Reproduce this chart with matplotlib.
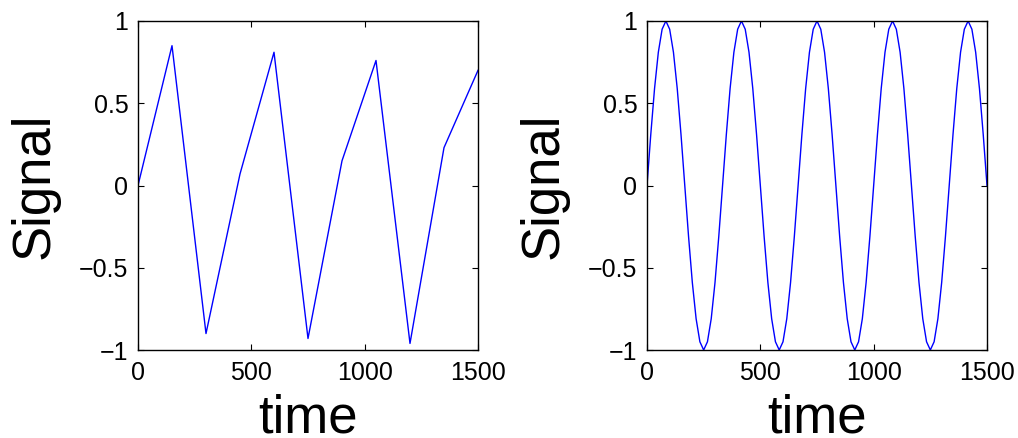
import matplotlib
matplotlib.use("Agg")
import matplotlib.pyplot as plt

# Left panel: coarsely sampled signal
t_left = [0, 150, 300, 450, 600, 750, 900, 1050, 1200, 1350, 1500]
y_left = [0.0, 0.85, -0.90, 0.07, 0.81, -0.93, 0.15, 0.76, -0.96, 0.23, 0.70]

# Right panel: finely sampled signal (step 1500/90)
t_right = [i * 1500 / 90 for i in range(91)]
y_right = [
    0.0, 0.31, 0.59, 0.81, 0.95, 1.0, 0.95, 0.81, 0.59, 0.31,
    0.0, -0.31, -0.59, -0.81, -0.95, -1.0, -0.95, -0.81, -0.59, -0.31,
    0.0, 0.31, 0.59, 0.81, 0.95, 1.0, 0.95, 0.81, 0.59, 0.31,
    0.0, -0.31, -0.59, -0.81, -0.95, -1.0, -0.95, -0.81, -0.59, -0.31,
    0.0, 0.31, 0.59, 0.81, 0.95, 1.0, 0.95, 0.81, 0.59, 0.31,
    0.0, -0.31, -0.59, -0.81, -0.95, -1.0, -0.95, -0.81, -0.59, -0.31,
    0.0, 0.31, 0.59, 0.81, 0.95, 1.0, 0.95, 0.81, 0.59, 0.31,
    0.0, -0.31, -0.59, -0.81, -0.95, -1.0, -0.95, -0.81, -0.59, -0.31,
    0.0, 0.31, 0.59, 0.81, 0.95, 1.0, 0.95, 0.81, 0.59, 0.31,
    0.0,
]

x_ticks = [0, 500, 1000, 1500]
x_ticklabels = ["0", "500", "1000", "1500"]
y_ticks = [-1, -0.5, 0, 0.5, 1]
y_ticklabels = ["\u22121", "\u22120.5", "0", "0.5", "1"]

plt.rcParams["font.family"] = ["Liberation Sans", "DejaVu Sans"]

W, H = 1018, 438
fig = plt.figure(figsize=(W / 100, H / 100), dpi=100)

def make_ax(x0, x1, y0, y1):
    return fig.add_axes([x0 / W, 1 - y1 / H, (x1 - x0) / W, (y1 - y0) / H])

axes = [make_ax(138, 478, 21, 350), make_ax(647, 987, 21, 350)]
for ax, t, y in zip(axes, [t_left, t_right], [y_left, y_right]):
    ax.plot(t, y, color=(0, 0, 1), linewidth=1.0)
    ax.set_xlim(0, 1500)
    ax.set_ylim(-1, 1)
    ax.set_xticks(x_ticks)
    ax.set_xticklabels(x_ticklabels)
    ax.set_yticks(y_ticks)
    ax.set_yticklabels(y_ticklabels)
    ax.tick_params(direction="in", top=True, right=True, length=4,
                   width=0.8, labelsize=18)
    ax.tick_params(axis="x", pad=8)
    ax.tick_params(axis="y", pad=7)
    for s in ax.spines.values():
        s.set_linewidth(1.0)
    ax.set_xlabel("time", fontsize=38, labelpad=6)
    ax.set_ylabel("Signal", fontsize=38, labelpad=14)

fig.savefig("out.png", dpi=100)
